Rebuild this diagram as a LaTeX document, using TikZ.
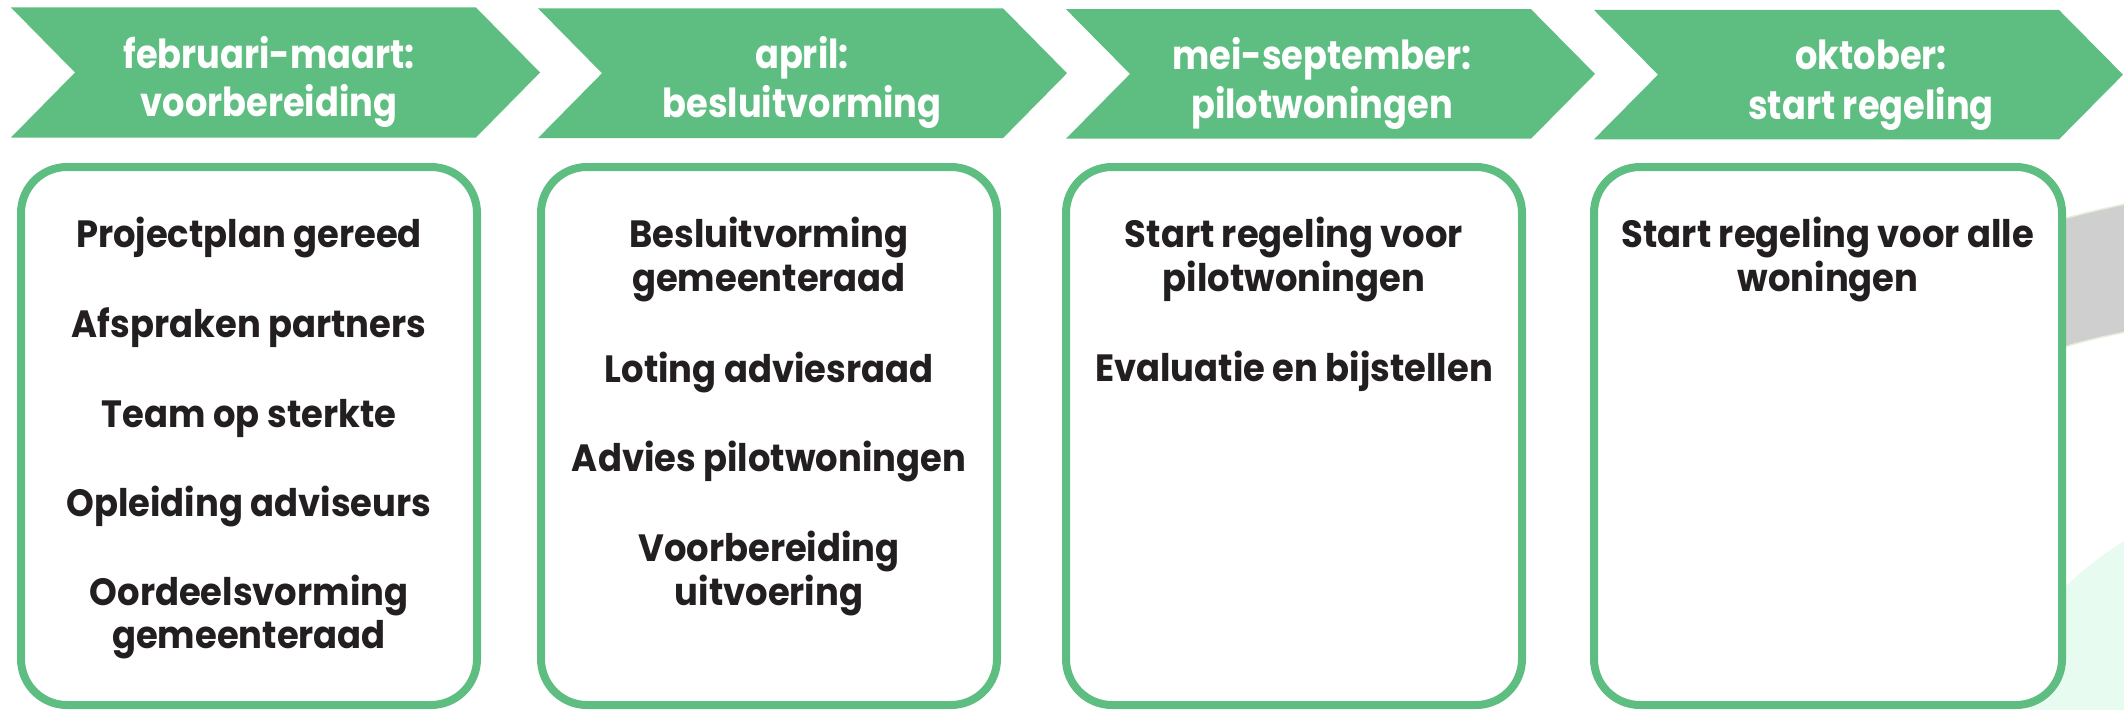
\documentclass[tikz,border=0pt]{standalone}
\usepackage{fontspec}
\setmainfont{Poppins}[FakeStretch=0.93]
\newfontfamily\fasefont{Poppins}[FakeStretch=0.88]
\definecolor{groen}{RGB}{94,190,129}
\definecolor{tekst}{RGB}{35,31,32}
\definecolor{grijsband}{RGB}{207,207,207}
\definecolor{bandrand}{RGB}{226,239,218}
\definecolor{mint}{RGB}{232,251,241}

\begin{document}
\begin{tikzpicture}[x=1pt,y=-1pt,
  fase/.style={fill=groen},
  fasetekst/.style={text=white,anchor=base,inner sep=0pt,font=\fasefont\fontsize{40}{48}\selectfont\bfseries},
  kader/.style={draw=groen,line width=8pt,fill=white,rounded corners=46pt},
  regel/.style={text=tekst,anchor=base,inner sep=0pt,font=\fontsize{38}{44}\selectfont\bfseries}]
\useasboundingbox (0,0) rectangle (2124,709);
\fill[white] (0,0) rectangle (2124,709);
% achtergrond rechts
\filldraw[fill=grijsband,draw=bandrand,line width=1.5pt] (2040,225) .. controls (2070,217) and (2100,209) .. (2126,204) -- (2126,332) .. controls (2100,337) and (2070,344) .. (2040,355) -- cycle;
\fill[mint] (2126,540) .. controls (2095,558) and (2060,588) .. (2030,625) -- (2030,712) -- (2126,712) -- cycle;
% pijlen
\foreach \x/\t/\b in {11/7.5/137.5, 538/8.3/138.1, 1066/9.2/138.7, 1594/10/139.3}
  \fill[fase] (\x,\t) -- (\x+465,\t) -- (\x+529,{(\t+\b)/2}) -- (\x+465,\b) -- (\x,\b) -- (\x+64,{(\t+\b)/2}) -- cycle;
\node[fasetekst] (f1a) at (269,68) {februari-maart:};
\node[fasetekst] (f1b) at (269,116) {voorbereiding};
\node[fasetekst] (f2a) at (802,69) {april:};
\node[fasetekst] (f2b) at (802,117) {besluitvorming};
\node[fasetekst] (f3a) at (1322,69.5) {mei-september:};
\node[fasetekst] (f3b) at (1322,118) {pilotwoningen};
\node[fasetekst] (f4a) at (1871,70) {oktober:};
\node[fasetekst] (f4b) at (1871,119) {start regeling};
% kaders
\draw[kader] (21,167) rectangle (477,705);
\draw[kader] (541,167) rectangle (997,705);
\draw[kader] (1066,167) rectangle (1522,705);
\draw[kader] (1594,167) rectangle (2062,705);
% teksten
\node[regel] (a1) at (249,247) {Projectplan gereed};
\node[regel] (a2) at (249,337) {Afspraken partners};
\node[regel] (a3) at (249,427) {Team op sterkte};
\node[regel] (a4) at (249,516) {Opleiding adviseurs};
\node[regel] (a5) at (249,605) {Oordeelsvorming};
\node[regel] (a6) at (249,648) {gemeenteraad};
\node[regel] (b1) at (769,247) {Besluitvorming};
\node[regel] (b2) at (769,291) {gemeenteraad};
\node[regel] (b3) at (769,382) {Loting adviesraad};
\node[regel] (b4) at (769,471) {Advies pilotwoningen};
\node[regel] (b5) at (769,561) {Voorbereiding};
\node[regel] (b6) at (769,605) {uitvoering};
\node[regel] (c1) at (1294,247) {Start regeling voor};
\node[regel] (c2) at (1294,291) {pilotwoningen};
\node[regel] (c3) at (1294,381) {Evaluatie en bijstellen};
\node[regel] (d1) at (1828,247) {Start regeling voor alle};
\node[regel] (d2) at (1828,291) {woningen};
\end{tikzpicture}
\end{document}
